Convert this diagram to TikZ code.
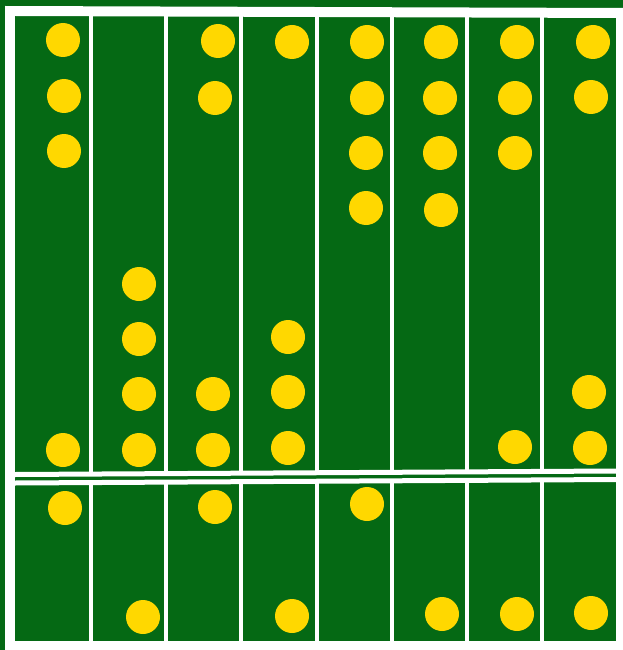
\documentclass[tikz,border=0pt]{standalone}
\definecolor{board}{RGB}{5,105,20}
\definecolor{bead}{RGB}{255,216,0}
\begin{document}
\begin{tikzpicture}[x=1pt,y=-1pt,
  bead/.style={circle,fill=bead,draw=none,minimum size=34pt,inner sep=0pt},
  rod/.style={draw=white,line width=4.5pt},
  bar/.style={draw=white,line width=5pt}]
\useasboundingbox (0,0) rectangle (623,650);
\fill[board] (0,0) rectangle (623,650);
% outer white frame
\fill[white] (5,6) -- (623,8) -- (623,18) -- (15,16) -- cycle;
\fill[white] (5,6) rectangle (15,650);
\fill[white] (616,8) rectangle (623,650);
\fill[white] (5,641) rectangle (623,650);
% double crossbar
\draw[bar] (15,474.5) -- (616,471);
\draw[bar] (15,483) -- (616,479.5);
% vertical dividers
\foreach \x in {91,166,241,317,392,467,542}{
  \draw[rod] (\x,16) -- (\x,473);
  \draw[rod] (\x,481) -- (\x,641);
}
% beads upper
\node[bead] (a1) at (63,40) {};
\node[bead] (a2) at (64,96) {};
\node[bead] (a3) at (64,151) {};
\node[bead] (a4) at (63,450) {};
\node[bead] (b1) at (139,284) {};
\node[bead] (b2) at (139,339) {};
\node[bead] (b3) at (139,394) {};
\node[bead] (b4) at (139,450) {};
\node[bead] (c1) at (218,41) {};
\node[bead] (c2) at (215,98) {};
\node[bead] (c3) at (213,394) {};
\node[bead] (c4) at (213,450) {};
\node[bead] (d1) at (292,42) {};
\node[bead] (d2) at (288,337) {};
\node[bead] (d3) at (288,392) {};
\node[bead] (d4) at (288,448) {};
\node[bead] (e1) at (367,42) {};
\node[bead] (e2) at (367,98) {};
\node[bead] (e3) at (366,153) {};
\node[bead] (e4) at (366,208) {};
\node[bead] (f1) at (441,42) {};
\node[bead] (f2) at (440,98) {};
\node[bead] (f3) at (440,153) {};
\node[bead] (f4) at (441,210) {};
\node[bead] (g1) at (517,42) {};
\node[bead] (g2) at (515,98) {};
\node[bead] (g3) at (515,153) {};
\node[bead] (g4) at (515,447) {};
\node[bead] (h1) at (593,42) {};
\node[bead] (h2) at (591,97) {};
\node[bead] (h3) at (589,392) {};
\node[bead] (h4) at (590,448) {};
% beads lower
\node[bead] (la) at (65,508) {};
\node[bead] (lb) at (143,617) {};
\node[bead] (lc) at (215,507) {};
\node[bead] (ld) at (292,616) {};
\node[bead] (le) at (367,504) {};
\node[bead] (lf) at (442,614) {};
\node[bead] (lg) at (517,614) {};
\node[bead] (lh) at (591,613) {};
\end{tikzpicture}
\end{document}
